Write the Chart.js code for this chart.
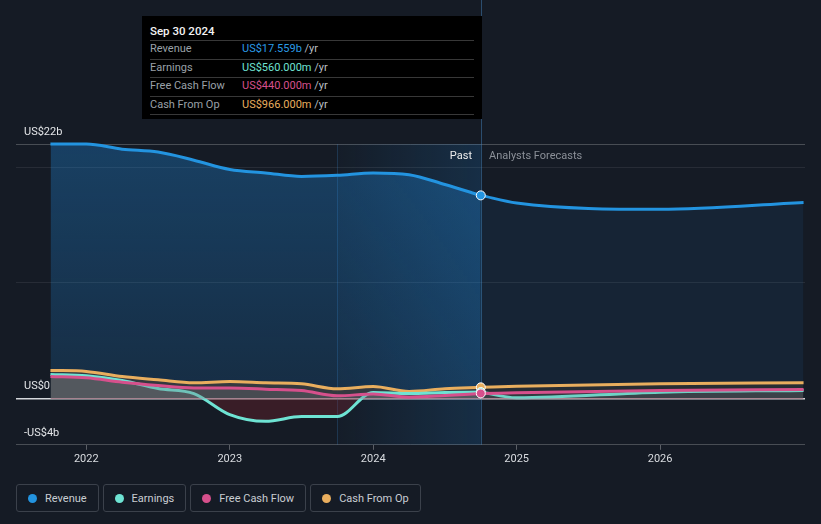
<!DOCTYPE html>
<html>
<head>
<meta charset="utf-8">
<script src="https://cdn.jsdelivr.net/npm/chart.js@4/dist/chart.umd.min.js"></script>
<style>
    html, body { margin: 0; padding: 0; background: #151b25; }
    body { width: 821px; height: 524px; position: relative; overflow: hidden; font-family: Roboto, "Noto Sans", sans-serif; }
    #wrap { position: absolute; left: 0; top: 0; width: 821px; height: 470px; }
    .tip { position: absolute; left: 142px; top: 16px; width: 340px; height: 103px; background: #000; box-sizing: border-box; padding: 0 8px; }
    .tip .ttl { height: 25px; box-sizing: border-box; padding-top: 8px; line-height: 15px; font-size: 11.5px; font-weight: 500; color: #f2f2f2; border-bottom: 1px solid rgba(255,255,255,0.22); }
    .tip .row { height: 17.5px; line-height: 16px; font-size: 11px; border-bottom: 1px solid rgba(255,255,255,0.22); display: flex; }
    .tip .lab { width: 92px; color: #9aa0a8; }
    .tip .yr { color: #b9bec4; }
    .zone { position: absolute; top: 149px; font-size: 11px; line-height: 14px; }
    .legend { position: absolute; left: 16px; top: 484px; display: flex; gap: 4px; }
    .legend div { height: 28px; box-sizing: border-box; border: 1px solid #3b414b; border-radius: 3px; padding: 0 11px 0 11px; display: flex; align-items: center; font-size: 11px; color: #c9cdd3; }
    .legend span { width: 9px; height: 9px; border-radius: 50%; margin-right: 8px; display: inline-block; }
</style>
</head>
<body>
<div id="wrap"><canvas id="chart" width="821" height="470"></canvas></div>

<div class="tip">
    <div class="ttl">Sep 30 2024</div>
    <div class="row"><span class="lab">Revenue</span><span style="color:#2b9be6">US$17.559b</span>&nbsp;<span class="yr">/yr</span></div>
    <div class="row"><span class="lab">Earnings</span><span style="color:#6fe3d3">US$560.000m</span>&nbsp;<span class="yr">/yr</span></div>
    <div class="row"><span class="lab">Free Cash Flow</span><span style="color:#d6508c">US$440.000m</span>&nbsp;<span class="yr">/yr</span></div>
    <div class="row"><span class="lab">Cash From Op</span><span style="color:#e9ae5e">US$966.000m</span>&nbsp;<span class="yr">/yr</span></div>
</div>

<div class="zone" style="right:349px; color:#ececec;">Past</div>
<div class="zone" style="left:489px; color:#8b9098;">Analysts Forecasts</div>

<div class="legend">
    <div><span style="background:#2394e0"></span>Revenue</div>
    <div><span style="background:#6ee3d3"></span>Earnings</div>
    <div><span style="background:#d6508c"></span>Free Cash Flow</div>
    <div><span style="background:#e9ae5e"></span>Cash From Op</div>
</div>

<script>
// dates as decimal years, values in US$ billions
const pastDates = [2021.75, 2022, 2022.25, 2022.5, 2022.75, 2023, 2023.25, 2023.5, 2023.75, 2024, 2024.25, 2024.5, 2024.75];
const revenuePast = [22.0, 22.0, 21.55, 21.3, 20.6, 19.8, 19.5, 19.2, 19.3, 19.5, 19.35, 18.5, 17.559];
const earningsPast = [2.08, 1.97, 1.56, 0.87, 0.43, -1.39, -1.97, -1.56, -1.56, 0.52, 0.43, 0.52, 0.56];
const fcfPast = [1.9, 1.79, 1.41, 1.13, 0.92, 0.9, 0.81, 0.69, 0.23, 0.4, 0.12, 0.26, 0.44];
const cfoPast = [2.43, 2.34, 1.9, 1.62, 1.36, 1.47, 1.36, 1.27, 0.84, 1.04, 0.61, 0.84, 0.966];

const foreDates = [2024.75, 2025, 2026, 2027];
const revenueFore = [17.559, 16.9, 16.35, 16.95];
const earningsFore = [0.56, 0.06, 0.55, 0.7];
const fcfFore = [0.44, 0.49, 0.69, 0.78];
const cfoFore = [0.966, 1.07, 1.27, 1.36];

const yearTicks = [2022, 2023, 2024, 2025, 2026];
const yTicks = [-4, 0, 10, 20, 22];
const yLabels = { '-4': '-US$4b', '0': 'US$0', '22': 'US$22b' };

const lastPast = pastDates[pastDates.length - 1];
const bandStart = 2023.75;

const pts = (xs, ys) => xs.map((x, i) => ({ x: x, y: ys[i] }));
const lastOnly = (ctx) => ctx.dataIndex === pastDates.length - 1 ? 4.5 : 0;

function revenueFill(ctx) {
    const area = ctx.chart.chartArea;
    if (!area) return 'rgba(33,150,243,0.2)';
    const y0 = ctx.chart.scales.y.getPixelForValue(0);
    const g = ctx.chart.ctx.createLinearGradient(0, area.top, 0, y0);
    g.addColorStop(0, 'rgba(33,150,243,0.30)');
    g.addColorStop(1, 'rgba(33,150,243,0.15)');
    return g;
}

function line(label, data, color, fill, order, past) {
    return {
        label: label,
        data: data,
        borderColor: color,
        backgroundColor: color,
        borderWidth: 3,
        fill: fill,
        order: order,
        cubicInterpolationMode: 'monotone',
        pointRadius: past ? lastOnly : 0,
        pointHoverRadius: 0,
        pointBackgroundColor: color,
        pointBorderColor: '#ffffff',
        pointBorderWidth: 1,
        clip: false
    };
}

// shaded last-year band and the past / forecast divider
const bandPlugin = {
    id: 'band',
    beforeDatasetsDraw(chart) {
        const { ctx, chartArea, scales } = chart;
        const x1 = scales.x.getPixelForValue(bandStart);
        const x2 = scales.x.getPixelForValue(lastPast);
        ctx.save();
        const g = ctx.createLinearGradient(x1, 0, x2, 0);
        g.addColorStop(0, 'rgba(33,150,243,0.02)');
        g.addColorStop(1, 'rgba(33,150,243,0.16)');
        ctx.fillStyle = g;
        ctx.fillRect(x1, chartArea.top, x2 - x1, chartArea.bottom - chartArea.top);
        ctx.strokeStyle = 'rgba(60,130,200,0.25)';
        ctx.lineWidth = 1;
        ctx.beginPath();
        ctx.moveTo(Math.round(x1) + 0.5, chartArea.top);
        ctx.lineTo(Math.round(x1) + 0.5, chartArea.bottom);
        ctx.stroke();
        ctx.strokeStyle = 'rgba(70,140,200,0.45)';
        ctx.beginPath();
        ctx.moveTo(Math.round(x2) + 0.5, 0);
        ctx.lineTo(Math.round(x2) + 0.5, chartArea.bottom);
        ctx.stroke();
        ctx.restore();
    }
};

new Chart(document.getElementById('chart'), {
    type: 'line',
    data: {
        datasets: [
            line('Revenue', pts(pastDates, revenuePast), '#2394e0', { target: 'origin', above: revenueFill }, 4, true),
            line('Revenue forecast', pts(foreDates, revenueFore), '#2394e0', { target: 'origin', above: 'rgba(33,150,243,0.08)' }, 4, false),
            line('Cash From Op', pts(pastDates, cfoPast), '#e9ae5e', { target: 'origin', above: 'rgba(56,59,63,0.9)' }, 3, true),
            line('Cash From Op forecast', pts(foreDates, cfoFore), '#e9ae5e', { target: 'origin', above: 'rgba(45,48,52,0.8)' }, 3, false),
            line('Earnings', pts(pastDates, earningsPast), '#6ee3d3', { target: 'origin', above: 'rgba(115,120,126,0.3)', below: 'rgba(142,35,45,0.3)' }, 2, true),
            line('Earnings forecast', pts(foreDates, earningsFore), '#6ee3d3', { target: 'origin', above: 'rgba(115,120,126,0.15)', below: 'rgba(142,35,45,0.3)' }, 2, false),
            line('Free Cash Flow', pts(pastDates, fcfPast), '#d6508c', { target: 'origin', above: 'rgba(115,120,126,0.3)' }, 1, true),
            line('Free Cash Flow forecast', pts(foreDates, fcfFore), '#d6508c', { target: 'origin', above: 'rgba(115,120,126,0.15)' }, 1, false)
        ]
    },
    options: {
        responsive: false,
        animation: false,
        devicePixelRatio: 1,
        layout: { padding: { top: 144, left: 16, right: 16, bottom: 1 } },
        plugins: { legend: { display: false }, tooltip: { enabled: false } },
        scales: {
            x: {
                type: 'linear',
                min: 2021.51,
                max: 2027.01,
                afterBuildTicks: (s) => { s.ticks = yearTicks.map(v => ({ value: v })); },
                ticks: { color: '#d9dce0', font: { family: 'Roboto', size: 11 }, padding: 3, callback: (v) => String(v) },
                grid: { drawOnChartArea: false, drawTicks: true, tickLength: 5, color: 'rgba(255,255,255,0.3)' },
                border: { display: false }
            },
            y: {
                min: -4,
                max: 22,
                afterFit: (s) => { s.width = 0; },
                afterBuildTicks: (s) => { s.ticks = yTicks.map(v => ({ value: v })); },
                ticks: {
                    mirror: true,
                    padding: 8,
                    labelOffset: -12,
                    color: '#e3e5e8',
                    font: { family: 'Roboto', size: 11 },
                    callback: (v) => yLabels[String(v)] || ''
                },
                grid: {
                    drawTicks: false,
                    color: (c) => c.tick.value === 0 ? '#d5d8dc' : (c.tick.value === 22 || c.tick.value === -4 ? 'rgba(255,255,255,0.22)' : 'rgba(255,255,255,0.08)'),
                    lineWidth: (c) => c.tick.value === 0 ? 1.5 : 1
                },
                border: { display: false }
            }
        }
    },
    plugins: [bandPlugin]
});
</script>
</body>
</html>
